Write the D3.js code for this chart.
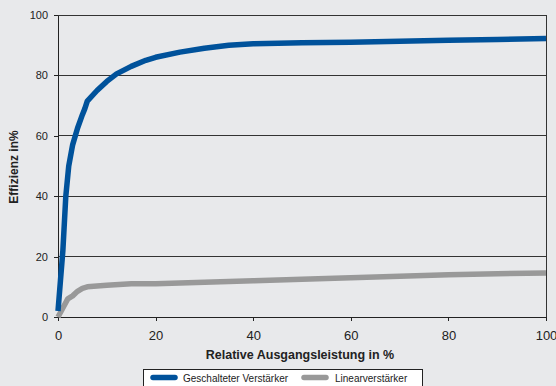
<!DOCTYPE html>
<html><head><meta charset="utf-8">
<script src="https://cdn.jsdelivr.net/npm/d3@7"></script>
<style>
html,body{margin:0;padding:0;background:#e8e9eb;}
svg{display:block;font-family:"Liberation Sans",Arial,Helvetica,sans-serif;}
</style></head><body>
<svg id="c" width="556" height="386"></svg>
<script>
const seriesNames = ["Geschalteter Verstärker", "Linearverstärker"];
const switchedX = [0,0.5,1,1.6,2.2,3,4,5,5.5,6,8,10,12,15,18,20,25,30,35,40,50,60,70,80,90,100];
const switchedY = [2,12,22,40,50,57,62.5,67,69,71.5,75,78,80.5,83,85,86,87.7,89,90,90.5,90.8,91,91.3,91.6,91.9,92.2];
const linearX = [0,1,2,3,4,5,6,10,15,20,30,40,50,60,70,80,90,100];
const linearY = [0,3,6,7,8.5,9.5,10,10.5,11,11,11.5,12,12.5,13,13.5,14,14.3,14.6];
const xTicks = [0,20,40,60,80,100];
const yTicks = [0,20,40,60,80,100];
const colors = ["#00529b", "#999999"];

const svg = d3.select("#c");
const m = {l:58, r:546, t:15, b:317};
const x = d3.scaleLinear().domain([0,100]).range([m.l, m.r]);
const y = d3.scaleLinear().domain([0,100]).range([m.b, m.t]);

// grid lines
svg.append("g").selectAll("line").data(yTicks.filter(d=>d>0)).join("line")
  .attr("x1", m.l).attr("x2", m.r).attr("y1", d=>y(d)).attr("y2", d=>y(d))
  .attr("stroke", "#333").attr("stroke-width", 1).attr("shape-rendering","crispEdges");
// right border
svg.append("line").attr("x1", m.r).attr("x2", m.r).attr("y1", m.t).attr("y2", m.b)
  .attr("stroke", "#333").attr("shape-rendering","crispEdges");

const xAxis = svg.append("g").attr("transform", `translate(0,${m.b})`)
  .call(d3.axisBottom(x).tickValues(xTicks).tickSize(4).tickSizeOuter(0).tickPadding(10));
const yAxis = svg.append("g").attr("transform", `translate(${m.l},0)`)
  .call(d3.axisLeft(y).tickValues(yTicks).tickSize(4).tickSizeOuter(0).tickPadding(6));
[xAxis, yAxis].forEach(a => {
  a.selectAll("path,line").attr("stroke", "#222").attr("shape-rendering","crispEdges");
  a.selectAll("text").attr("fill", "#222")
    .style("font-family", '"Liberation Sans",Arial,sans-serif');
});
xAxis.selectAll("text").style("font-size", "13px");
yAxis.selectAll("text").style("font-size", "11px");

const line = d3.line().x(d=>x(d[0])).y(d=>y(d[1]));
const sw = d3.zip(switchedX, switchedY);
const li = d3.zip(linearX, linearY);
svg.append("path").datum(li).attr("d", line).attr("fill","none")
  .attr("stroke", colors[1]).attr("stroke-width", 5.5).attr("stroke-linejoin","round");
svg.append("path").datum(sw).attr("d", line).attr("fill","none")
  .attr("stroke", colors[0]).attr("stroke-width", 5.5).attr("stroke-linejoin","round");

// axis titles
svg.append("text").attr("x", (m.l+m.r)/2 - 2).attr("y", 359).attr("text-anchor","middle")
  .style("font-size","12.5px").style("font-weight","bold").attr("fill","#222")
  .text("Relative Ausgangsleistung in %");
svg.append("text").attr("transform", `translate(18,${(m.t+m.b)/2+1}) rotate(-90)`)
  .attr("text-anchor","middle").style("font-size","12px").style("font-weight","bold")
  .attr("fill","#222").text("Effizienz in%");

// legend
const lg = svg.append("g");
lg.append("rect").attr("x", 143.5).attr("y", 369.5).attr("width", 279).attr("height", 22)
  .attr("fill", "#fff").attr("stroke", "#222");
const entries = [{x:150, tx:183}, {x:301, tx:335}];
entries.forEach((e,i) => {
  lg.append("line").attr("x1", e.x+3).attr("x2", e.x+25).attr("y1", 377.5).attr("y2", 377.5)
    .attr("stroke", colors[i]).attr("stroke-width", 5.5).attr("stroke-linecap","round");
  lg.append("text").attr("x", e.tx).attr("y", 381.5).style("font-size","10px")
    .attr("fill","#222").text(seriesNames[i]);
});
</script>
</body></html>
